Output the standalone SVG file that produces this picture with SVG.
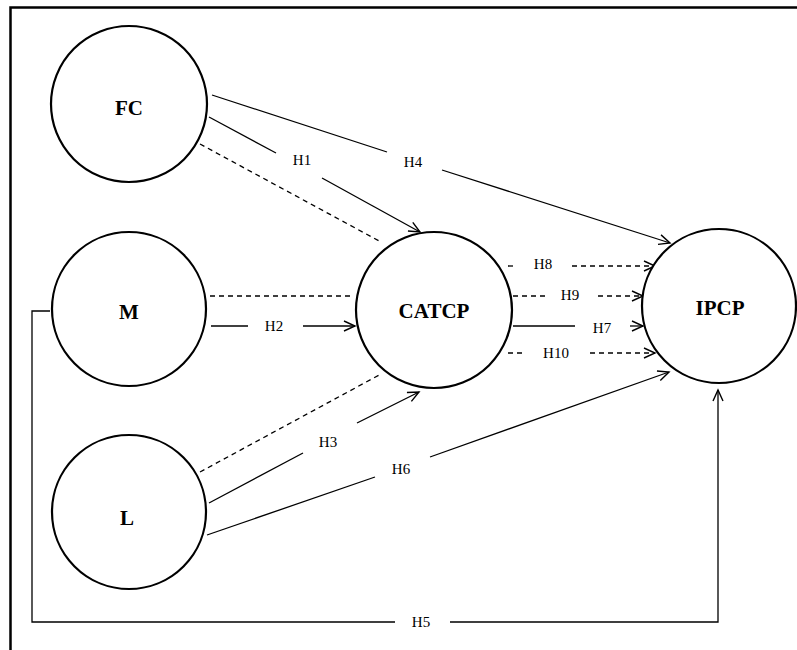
<svg xmlns="http://www.w3.org/2000/svg" width="797" height="650" viewBox="0 0 797 650">
<style>
.node{fill:#fff;stroke:#000;stroke-width:2.2}
.nt{font-family:"Liberation Serif",serif;font-weight:bold;font-size:21px;text-anchor:middle;fill:#000}
.lbl{font-family:"Liberation Serif",serif;font-size:15px;text-anchor:middle;fill:#000}
.ln{stroke:#000;stroke-width:1.3;fill:none}
.ds{stroke:#000;stroke-width:1.3;fill:none;stroke-dasharray:5,4}
.ar{marker-end:url(#arr)}
</style>
<defs>
<marker id="arr" markerWidth="14" markerHeight="12" refX="12" refY="6" orient="auto" markerUnits="userSpaceOnUse">
<path d="M1,1 L12,6 L1,11" fill="none" stroke="#000" stroke-width="1.4"/>
</marker>
</defs>
<rect width="797" height="650" fill="#fff"/>
<path d="M10.5,650 L10.5,7.5 L797,7.5" fill="none" stroke="#000" stroke-width="2.5"/>
<g id="connectors">
<line class="ln" x1="212" y1="95" x2="387" y2="152"/>
<line class="ln ar" x1="442" y1="170" x2="670" y2="243"/>
<text class="lbl" x="413" y="167">H4</text>
<line class="ln" x1="209" y1="117" x2="276" y2="153"/>
<line class="ln ar" x1="322" y1="178" x2="420" y2="232"/>
<text class="lbl" x="302" y="165">H1</text>
<line class="ds" x1="200" y1="144" x2="381" y2="242"/>
<line class="ds" x1="210" y1="296" x2="352" y2="296"/>
<line class="ln" x1="211" y1="326" x2="248" y2="326"/>
<line class="ln ar" x1="303" y1="326" x2="355" y2="326"/>
<text class="lbl" x="274" y="331">H2</text>
<line class="ds" x1="200" y1="472" x2="381" y2="374"/>
<line class="ln" x1="209" y1="503" x2="303" y2="453"/>
<line class="ln ar" x1="357" y1="423" x2="419" y2="392"/>
<text class="lbl" x="328" y="447">H3</text>
<line class="ln" x1="207" y1="535" x2="375" y2="477"/>
<line class="ln ar" x1="430" y1="457" x2="669" y2="372"/>
<text class="lbl" x="401" y="474">H6</text>
<path class="ln" d="M50,311 L32,311 L32,622 L395,622"/>
<path class="ln ar" d="M450,622 L718,622 L718,390"/>
<text class="lbl" x="421" y="627">H5</text>
<line class="ds" x1="508" y1="266" x2="517" y2="266"/>
<line class="ds ar" x1="572" y1="266" x2="655" y2="266"/>
<text class="lbl" x="543" y="269">H8</text>
<line class="ds" x1="513" y1="296" x2="545" y2="296"/>
<line class="ds ar" x1="598" y1="296" x2="643" y2="296"/>
<text class="lbl" x="570" y="300">H9</text>
<line class="ln" x1="513" y1="326" x2="575" y2="326"/>
<line class="ln ar" x1="630" y1="326" x2="643" y2="326"/>
<text class="lbl" x="602" y="333">H7</text>
<line class="ds" x1="508" y1="353" x2="526" y2="353"/>
<line class="ds ar" x1="590" y1="353" x2="655" y2="353"/>
<text class="lbl" x="556" y="358">H10</text>
</g>
<g id="FC"><circle class="node" cx="129" cy="104" r="78"/><text class="nt" x="129" y="115">FC</text></g>
<g id="M"><circle class="node" cx="129" cy="309" r="77"/><text class="nt" x="129" y="319">M</text></g>
<g id="L"><circle class="node" cx="129" cy="512" r="77"/><text class="nt" x="127" y="525">L</text></g>
<g id="CATCP"><circle class="node" cx="434" cy="310" r="78"/><text class="nt" x="434" y="318">CATCP</text></g>
<g id="IPCP"><circle class="node" cx="719" cy="306" r="77"/><text class="nt" x="720" y="315">IPCP</text></g>
</svg>
